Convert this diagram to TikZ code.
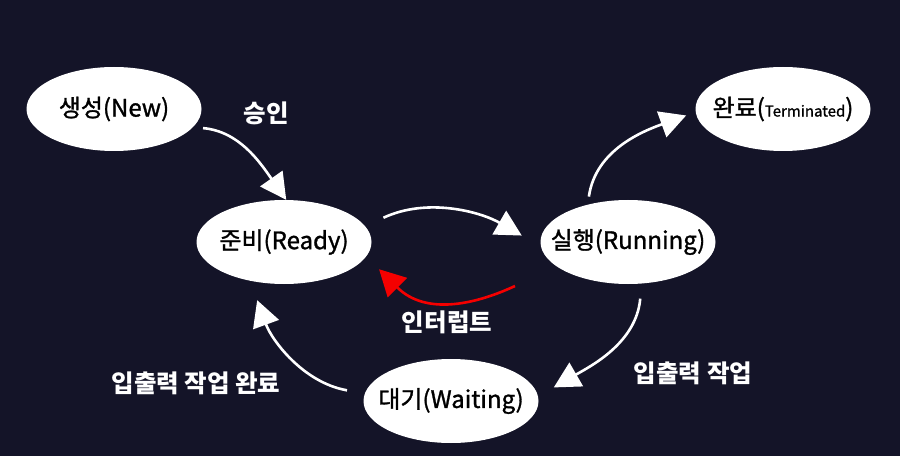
\documentclass[tikz,border=0pt]{standalone}
\usepackage{fontspec}
\setmainfont{Noto Sans CJK KR}
\newfontfamily\nodefont{Noto Sans CJK KR}[FakeBold=1.2]
\usetikzlibrary{arrows.meta,shapes.geometric}
\definecolor{bg}{HTML}{141428}
\definecolor{intr}{HTML}{F50000}
\newcommand{\stxt}[1]{\makebox[0pt][c]{#1}}
\begin{document}
\begin{tikzpicture}[x=1pt,y=1pt,
  state/.style={ellipse, fill=white, minimum width=175pt, minimum height=84pt, inner sep=0pt,
                font=\nodefont\fontsize{24}{28}\selectfont, text=black},
  lbl/.style={text=white, inner sep=0pt, font=\bfseries\fontsize{24.5}{28}\selectfont},
  flow/.style={draw=white, line width=2.6pt, -{Triangle[length=26pt,width=27pt]}},
  intflow/.style={draw=intr, line width=2.6pt, -{Triangle[length=26pt,width=27pt]}},
]
\fill[bg] (0,0) rectangle (900,456);
\useasboundingbox (0,0) rectangle (900,456);

\node[state] (new)  at (114,347) {\stxt{생성(New)}};
\node[state] (ready) at (284,214) {\stxt{준비(Ready)}};
\node[state] (run)  at (628,214) {\stxt{실행(Running)}};
\node[state] (term) at (783,347) {\stxt{완료({\fontsize{15}{18}\selectfont Terminated})}};
\node[state] (wait) at (451,55)  {\stxt{대기(Waiting)}};

\node[lbl] (l1) at (266,343) {승인};
\node[lbl] (l2) at (447,134) {인터럽트};
\node[lbl] (l3) at (693,83)  {입출력 작업};
\node[lbl] (l4) at (196,73)  {입출력 작업 완료};

\draw[flow, shorten <=10pt] (new.-13) to[out=-5, in=125] (ready.87);
\draw[flow, shorten <=20pt, shorten >=22pt] (ready.11) to[out=25, in=150] (run.183);
\draw[flow, shorten <=8pt, shorten >=10pt] (run.137) to[out=82, in=200] (term.182);
\draw[intflow, shorten <=46pt, shorten >=18pt] (run.199) to[out=205, in=-45, looseness=1.15] (ready.-10);
\draw[flow, shorten <=15pt, shorten >=18pt] (run.-72) to[out=-95, in=30] (wait.3);
\draw[flow, shorten <=18pt, shorten >=20.5pt] (wait.175) to[out=170, in=-70] (ready.229);
\end{tikzpicture}
\end{document}
